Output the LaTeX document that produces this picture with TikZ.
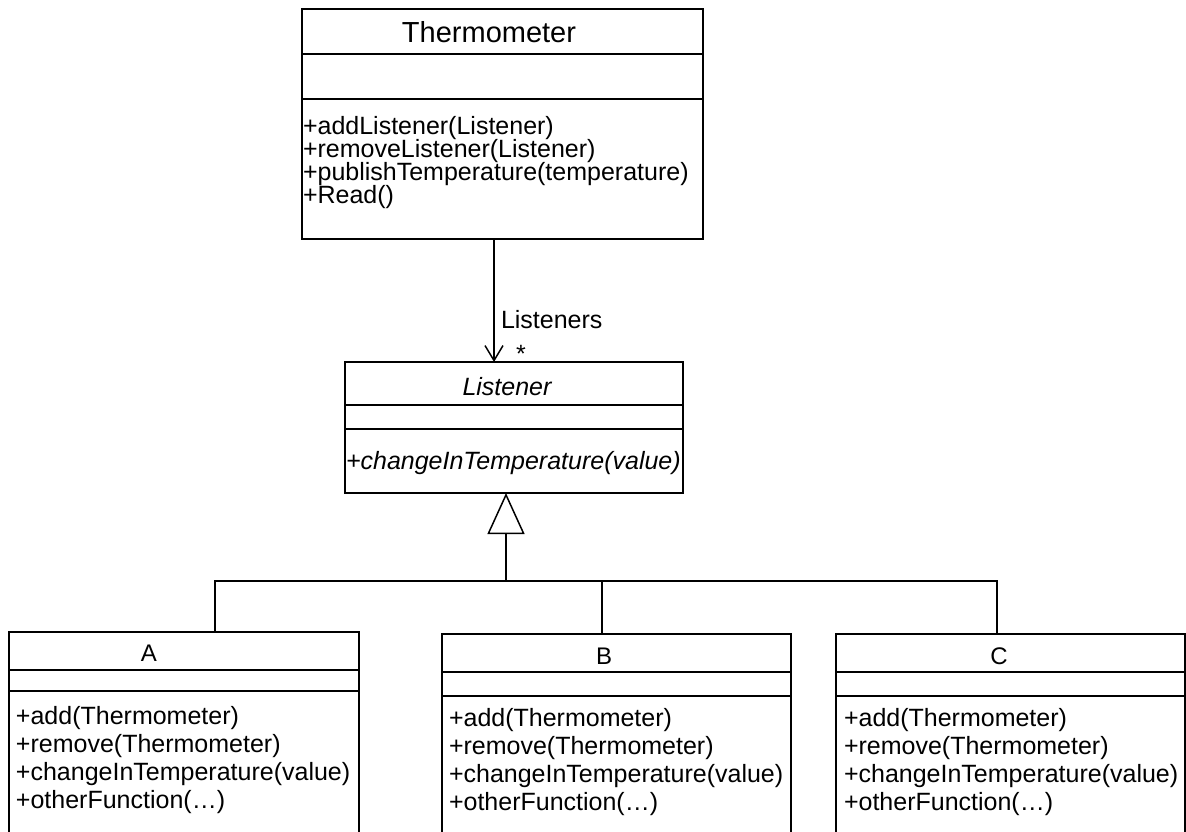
\documentclass[tikz,border=0pt]{standalone}
\usepackage{fontspec}
\setmainfont{Liberation Sans}
\usetikzlibrary{arrows.meta}
\newcommand{\thermfont}{\fontsize{25pt}{23pt}\selectfont\setlength{\lineskiplimit}{-100pt}}
\newcommand{\subfont}{\fontsize{25pt}{28pt}\selectfont\setlength{\lineskiplimit}{-100pt}}
\begin{document}
\begin{tikzpicture}[x=1pt,y=-1pt,
  box/.style={rectangle, draw=none, inner sep=0pt, outer sep=0pt, anchor=north west},
  border/.style={line width=1.2pt, black},
  sepline/.style={line width=1.8pt, black},
  conn/.style={line width=1.5pt, black},
  methods/.style={inner sep=0pt, outer sep=0pt, align=left, anchor=north west},
  lbl/.style={inner sep=0pt, outer sep=0pt, font=\fontsize{25pt}{25pt}\selectfont},
  ttl/.style={inner sep=0pt, outer sep=0pt, anchor=base, font=\fontsize{24pt}{24pt}\selectfont}
]
\useasboundingbox (0,0) rectangle (1186,831);

% ---------- Thermometer ----------
\node[box, minimum width=401pt, minimum height=230pt] (therm) at (302,9) {};
\draw[border] (therm.north west) rectangle (therm.south east);
\draw[sepline] ([yshift=-45pt]therm.north west) -- ([yshift=-45pt]therm.north east);
\draw[sepline] ([yshift=-90pt]therm.north west) -- ([yshift=-90pt]therm.north east);
\node[inner sep=0pt, anchor=base, font=\fontsize{29pt}{29pt}\selectfont] (thermT) at (489,42) {Thermometer};
\node[methods, font=\thermfont] (thermM) at (303,116) {+addListener(Listener)\\+removeListener(Listener)\\+publishTemperature(temperature)\\+Read()};

% ---------- Listener ----------
\node[box, minimum width=338pt, minimum height=131pt] (listener) at (345,362) {};
\draw[border] (listener.north west) rectangle (listener.south east);
\draw[sepline] ([yshift=-43pt]listener.north west) -- ([yshift=-43pt]listener.north east);
\draw[sepline] ([yshift=-67pt]listener.north west) -- ([yshift=-67pt]listener.north east);
\node[lbl, anchor=base, font=\fontsize{25pt}{25pt}\selectfont\itshape] (listT) at (507,395) {Listener};
\node[lbl, anchor=base west, font=\fontsize{25pt}{25pt}\selectfont\itshape] (listM) at (346,469) {+changeInTemperature(value)};

% ---------- association ----------
\coordinate (arrx) at (494,300);
\draw[conn, -{Straight Barb[length=15pt,width=18pt]}] (therm.south -| arrx) -- (listener.north -| arrx);
\node[lbl, anchor=base west] (assocL) at (501,328) {Listeners};
\node[lbl, anchor=base] (assocM) at (521,362) {*};

% ---------- subclasses ----------
\node[box, minimum width=350pt, minimum height=210pt] (A) at (9,632) {};
\draw[border] (A.south west) -- (A.north west) -- (A.north east) -- (A.south east);
\draw[sepline] ([yshift=-38pt]A.north west) -- ([yshift=-38pt]A.north east);
\draw[sepline] ([yshift=-59pt]A.north west) -- ([yshift=-59pt]A.north east);
\node[ttl] (AT) at (149,661) {A};
\node[methods, font=\subfont] (AM) at (16,706) {+add(Thermometer)\\+remove(Thermometer)\\+changeInTemperature(value)\\+otherFunction(\dots)};

\node[box, minimum width=349pt, minimum height=210pt] (B) at (442,634) {};
\draw[border] (B.south west) -- (B.north west) -- (B.north east) -- (B.south east);
\draw[sepline] ([yshift=-38pt]B.north west) -- ([yshift=-38pt]B.north east);
\draw[sepline] ([yshift=-62pt]B.north west) -- ([yshift=-62pt]B.north east);
\node[ttl] (BT) at (604,664) {B};
\node[methods, font=\subfont] (BM) at (449,708) {+add(Thermometer)\\+remove(Thermometer)\\+changeInTemperature(value)\\+otherFunction(\dots)};

\node[box, minimum width=349pt, minimum height=210pt] (C) at (836,634) {};
\draw[border] (C.south west) -- (C.north west) -- (C.north east) -- (C.south east);
\draw[sepline] ([yshift=-38pt]C.north west) -- ([yshift=-38pt]C.north east);
\draw[sepline] ([yshift=-62pt]C.north west) -- ([yshift=-62pt]C.north east);
\node[ttl] (CT) at (999,664) {C};
\node[methods, font=\subfont] (CM) at (844,708) {+add(Thermometer)\\+remove(Thermometer)\\+changeInTemperature(value)\\+otherFunction(\dots)};

% ---------- generalization ----------
\coordinate (hub) at (506,581);
\coordinate (ax) at (215,581);
\coordinate (bx) at (602,581);
\coordinate (cx) at (997,581);
\draw[conn, -{Triangle[open, length=41pt, width=37pt]}] (hub) -- (listener.south -| hub);
\draw[conn] (A.north -| ax) -- (ax) -- (cx) -- (C.north -| cx);
\draw[conn] (bx) -- (B.north -| bx);
\end{tikzpicture}
\end{document}
